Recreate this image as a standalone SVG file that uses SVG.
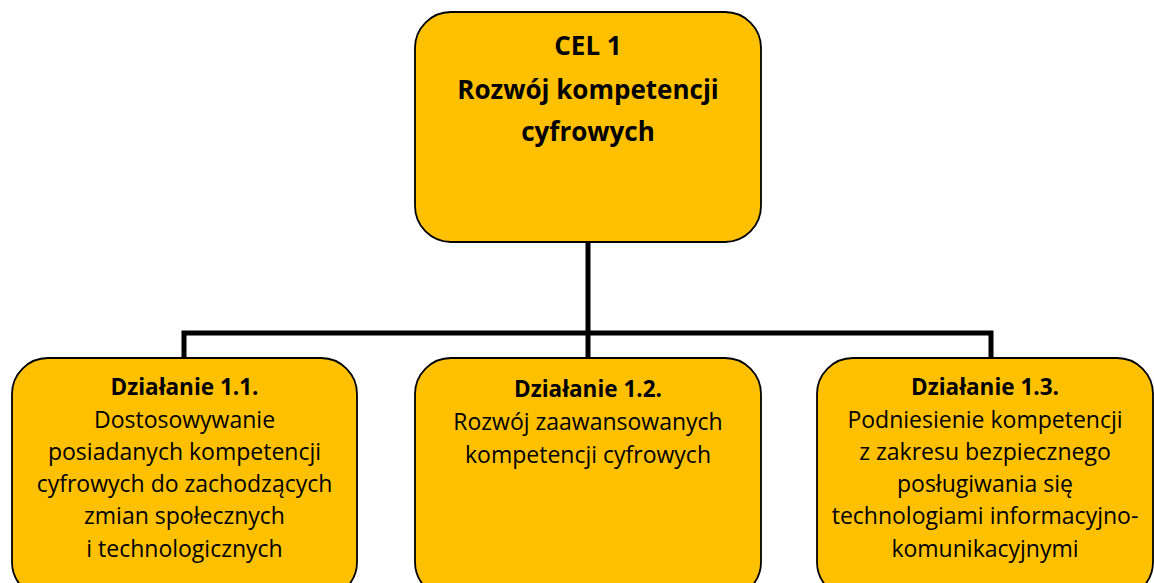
<svg xmlns="http://www.w3.org/2000/svg" width="1154" height="583" viewBox="0 0 1154 583">
<style>
.box{fill:#FFC000;stroke:#000;stroke-width:1.8}
.conn{fill:none;stroke:#000;stroke-width:5}
.t{font-family:"Open Sans","Liberation Sans",sans-serif;fill:#000;text-anchor:middle}
.h{font-size:26px;font-weight:bold}
.b{font-size:22.5px;font-weight:bold}
.r{font-size:23px}
</style>
<rect width="1154" height="583" fill="#fff"/>
<g id="connectors">
<path class="conn" d="M588 242 V333 M184 358 V333 H991 V358 M588 333 V358"/>
</g>
<g id="cel1">
<rect class="box" x="415" y="12" width="346" height="230" rx="36"/>
<text class="t h" x="588" y="55">CEL 1</text>
<text class="t h" x="588" y="99">Rozwój kompetencji</text>
<text class="t h" x="588" y="141">cyfrowych</text>
</g>
<g id="dzialanie11">
<rect class="box" x="12" y="358" width="345" height="240" rx="36"/>
<text class="t b" x="184.5" y="395">Działanie 1.1.</text>
<text class="t r" x="184.5" y="428">Dostosowywanie</text>
<text class="t r" x="184.5" y="460">posiadanych kompetencji</text>
<text class="t r" x="184.5" y="492">cyfrowych do zachodzących</text>
<text class="t r" x="184.5" y="524">zmian społecznych</text>
<text class="t r" x="184.5" y="557">i technologicznych</text>
</g>
<g id="dzialanie12">
<rect class="box" x="415" y="358" width="346" height="240" rx="36"/>
<text class="t b" x="588" y="397">Działanie 1.2.</text>
<text class="t r" x="588" y="430">Rozwój zaawansowanych</text>
<text class="t r" x="588" y="463">kompetencji cyfrowych</text>
</g>
<g id="dzialanie13">
<rect class="box" x="817" y="358" width="336" height="240" rx="36"/>
<text class="t b" x="985" y="395">Działanie 1.3.</text>
<text class="t r" x="985" y="428">Podniesienie kompetencji</text>
<text class="t r" x="985" y="460">z zakresu bezpiecznego</text>
<text class="t r" x="985" y="492">posługiwania się</text>
<text class="t r" x="985" y="524">technologiami informacyjno-</text>
<text class="t r" x="985" y="557">komunikacyjnymi</text>
</g>
</svg>
